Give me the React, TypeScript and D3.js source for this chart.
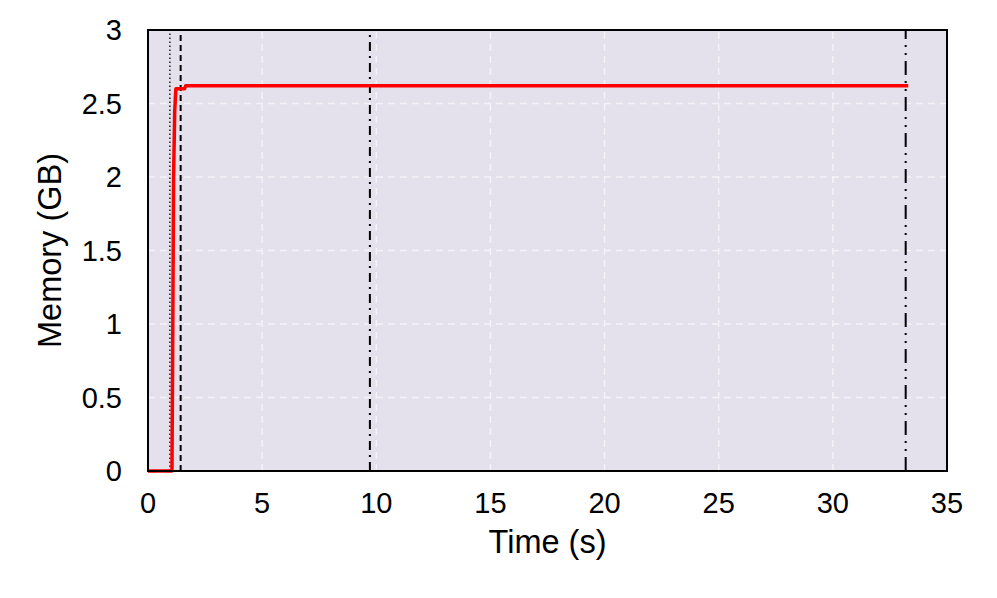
import React from "react";
import * as d3 from "d3";

const xTicks = [0, 5, 10, 15, 20, 25, 30, 35];
const yTicks = [0, 0.5, 1, 1.5, 2, 2.5, 3];
const yTickLabels = ["0", "0.5", "1", "1.5", "2", "2.5", "3"];
const memTime = [0, 1.05, 1.08, 1.12, 1.17, 1.22, 1.6, 1.65, 33.3];
const memGB = [0, 0, 0.8, 2.0, 2.45, 2.6, 2.6, 2.62, 2.62];
const markerTimes = [0.96, 1.43, 9.72, 33.19];
const markerStyles = ["1.5,2.5", "6,4", "9,5,2,5", "14,6,2,6,2,6"];

export default function App() {
  const W = 997, H = 598;
  const m = { left: 148, right: 50, top: 30, bottom: 127 };
  const x = d3.scaleLinear().domain([0, 35]).range([m.left, W - m.right]);
  const y = d3.scaleLinear().domain([0, 3]).range([H - m.bottom, m.top]);
  const data = memTime.map((t, i) => [t, memGB[i]] as [number, number]);
  const line = d3.line<[number, number]>().x(d => x(d[0])).y(d => y(d[1]));
  const font = "'Liberation Sans', Arial, Helvetica, sans-serif";
  return (
    <svg width={W} height={H} style={{ position: "absolute", left: 0, top: 0 }}>
      <rect x={0} y={0} width={W} height={H} fill="white" />
      <rect x={x(0)} y={y(3)} width={x(35) - x(0)} height={y(0) - y(3)} fill="#e4e0ec" />
      {xTicks.slice(1, -1).map(t => (
        <line key={"gx" + t} x1={x(t)} x2={x(t)} y1={y(0)} y2={y(3)} stroke="#f4f3f8" strokeWidth={1.5} strokeDasharray="7,5" />
      ))}
      {yTicks.slice(1, -1).map(t => (
        <line key={"gy" + t} x1={x(0)} x2={x(35)} y1={y(t)} y2={y(t)} stroke="#f4f3f8" strokeWidth={1.5} strokeDasharray="7,5" />
      ))}
      {markerTimes.map((t, i) => (
        <line key={"mk" + i} x1={x(t)} x2={x(t)} y1={y(0)} y2={y(3)} stroke="black" strokeWidth={i === 0 ? 1.3 : 2} strokeDasharray={markerStyles[i]} />
      ))}
      <path d={line(data) || ""} fill="none" stroke="#ff0000" strokeWidth={3.5} strokeLinejoin="round" />
      <rect x={x(0)} y={y(3)} width={x(35) - x(0)} height={y(0) - y(3)} fill="none" stroke="black" strokeWidth={2} />
      {xTicks.map(t => (
        <text key={"xt" + t} x={x(t)} y={y(0) + 42} textAnchor="middle" fontFamily={font} fontSize={29}>{t}</text>
      ))}
      {yTicks.map((t, i) => (
        <text key={"yt" + t} x={x(0) - 26} y={y(t) + 10} textAnchor="end" fontFamily={font} fontSize={29}>{yTickLabels[i]}</text>
      ))}
      <text x={(x(0) + x(35)) / 2} y={y(0) + 82} textAnchor="middle" fontFamily={font} fontSize={32.5}>Time (s)</text>
      <text transform={`translate(61,${(y(0) + y(3)) / 2}) rotate(-90)`} textAnchor="middle" fontFamily={font} fontSize={32.5}>Memory (GB)</text>
    </svg>
  );
}
